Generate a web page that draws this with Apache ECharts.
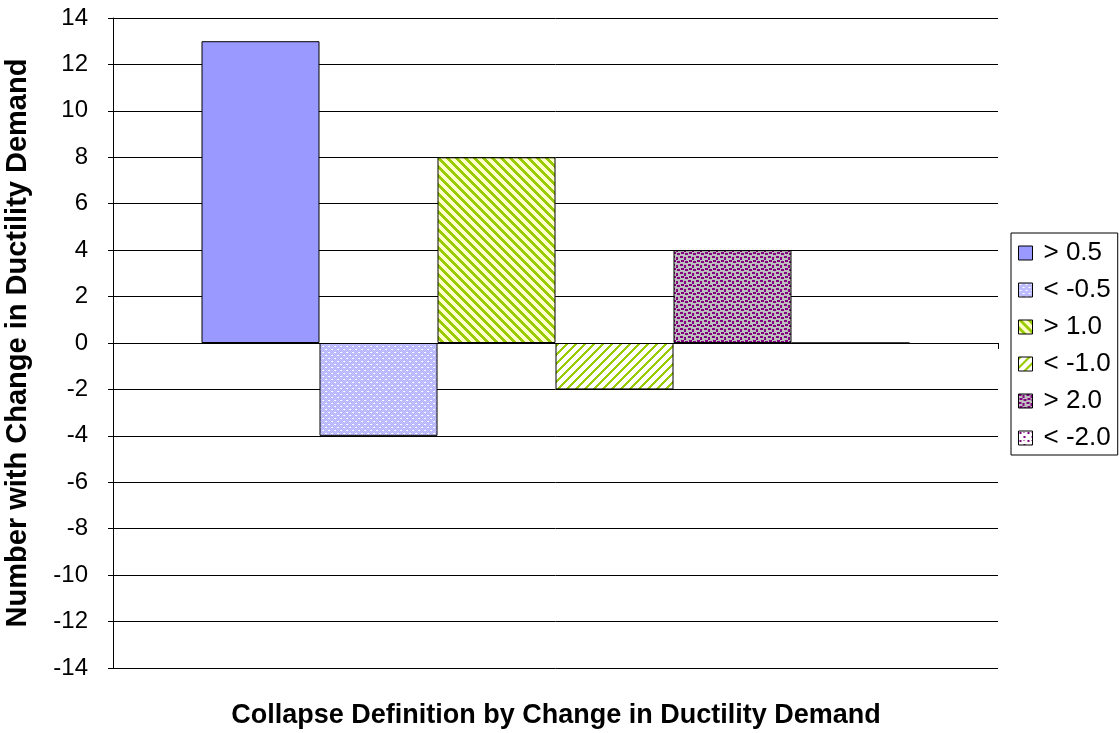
<!DOCTYPE html>
<html>
<head>
<meta charset="utf-8">
<script src="https://cdn.jsdelivr.net/npm/echarts@6/dist/echarts.min.js"></script>
<style>
  html, body { margin: 0; padding: 0; background: #fff; }
  #chart { width: 1120px; height: 733px; }
</style>
</head>
<body>
<div id="chart"></div>
<script>
// Chart data
const categories = ['Collapse'];
const seriesNames = ['> 0.5', '< -0.5', '> 1.0', '< -1.0', '> 2.0', '< -2.0'];
const seriesValues = [[13], [-4], [8], [-2], [4], [0]];
const yTicks = { min: -14, max: 14, interval: 2 };
const xTitle = 'Collapse Definition by Change in Ductility Demand';
const yTitle = 'Number with Change in Ductility Demand';

// Small tiled fill patterns drawn on canvases
function tile(size, painter) {
  const c = document.createElement('canvas');
  c.width = size; c.height = size;
  const ctx = c.getContext('2d');
  painter(ctx, size);
  return { image: c, repeat: 'repeat' };
}
function px(ctx, x, y, col) { ctx.fillStyle = col; ctx.fillRect(x, y, 1, 1); }

const fills = [
  '#9999FF',
  // lavender with small white specks
  tile(6, (ctx, s) => {
    ctx.fillStyle = '#B0B0FF'; ctx.fillRect(0, 0, s, s);
    for (let y = 0; y < s; y++) for (let x = 0; x < s; x++) {
      if ((x + y) % 2 === 0) px(ctx, x, y, '#C8C8FF');
    }
    px(ctx, 1, 1, '#fff'); px(ctx, 2, 1, '#fff');
    px(ctx, 4, 4, '#fff'); px(ctx, 5, 4, '#fff');
  }),
  // wide downward diagonal, green on pale yellow
  tile(9, (ctx, s) => {
    ctx.fillStyle = '#FFFFCC'; ctx.fillRect(0, 0, s, s);
    for (let y = 0; y < s; y++) for (let x = 0; x < s; x++) {
      if ((((x - y) % s) + s) % s < 4) px(ctx, x, y, '#99CC00');
    }
  }),
  // upward diagonal, green on white
  tile(9, (ctx, s) => {
    ctx.fillStyle = '#FFFFFF'; ctx.fillRect(0, 0, s, s);
    for (let y = 0; y < s; y++) for (let x = 0; x < s; x++) {
      if ((x + y) % s < 3) px(ctx, x, y, '#99CC00');
    }
  }),
  // purple confetti on grey
  tile(8, (ctx, s) => {
    ctx.fillStyle = '#BEBEBE'; ctx.fillRect(0, 0, s, s);
    ctx.fillStyle = '#800080';
    ctx.fillRect(0, 0, 3, 2); ctx.fillRect(4, 1, 2, 3);
    ctx.fillRect(1, 4, 3, 2); ctx.fillRect(5, 5, 3, 2);
  }),
  // purple confetti on white
  tile(8, (ctx, s) => {
    ctx.fillStyle = '#FFFFFF'; ctx.fillRect(0, 0, s, s);
    ctx.fillStyle = '#800080';
    ctx.fillRect(1, 1, 2, 2); ctx.fillRect(5, 5, 2, 2);
    ctx.fillRect(5, 1, 1, 1);
  })
];

const font = '"Liberation Sans", Arial, sans-serif';
const chart = echarts.init(document.getElementById('chart'), null, { renderer: 'canvas' });

chart.setOption({
  animation: false,
  backgroundColor: '#fff',
  grid: { left: 113, right: 122, top: 18, bottom: 65, containLabel: false, outerBoundsMode: 'none' },
  graphic: [
    {
      type: 'text',
      x: 556, y: 716,
      style: { text: xTitle, font: 'bold 27px ' + font, fill: '#000', align: 'center', verticalAlign: 'middle' }
    },
    {
      type: 'text',
      x: 18, y: 343,
      rotation: Math.PI / 2,
      style: { text: yTitle, font: 'bold 29px ' + font, fill: '#000', align: 'center', verticalAlign: 'middle' }
    }
  ],
  legend: {
    orient: 'vertical',
    left: 1011,
    top: 233,
    padding: [7, 7, 4, 7],
    borderColor: '#000',
    borderWidth: 1,
    itemWidth: 14,
    itemHeight: 14,
    itemGap: 11,
    icon: 'rect',
    textStyle: { fontFamily: font, fontSize: 26, lineHeight: 26, color: '#000', padding: [0, 0, 0, 6] },
    itemStyle: { borderColor: '#000', borderWidth: 1 },
    data: seriesNames
  },
  xAxis: {
    type: 'category',
    data: categories,
    axisLine: { onZero: true, lineStyle: { color: '#000', width: 1 } },
    axisTick: { show: true, length: 6, lineStyle: { color: '#000' } },
    axisLabel: { show: false },
    splitLine: { show: false }
  },
  yAxis: {
    type: 'value',
    min: yTicks.min,
    max: yTicks.max,
    interval: yTicks.interval,
    axisLine: { show: true, lineStyle: { color: '#000', width: 1 } },
    axisTick: { show: true, length: 5, lineStyle: { color: '#000' } },
    axisLabel: { fontFamily: font, fontSize: 24, color: '#000', margin: 25 },
    splitLine: { show: true, lineStyle: { color: '#000', width: 1 } }
  },
  series: seriesNames.map((name, i) => ({
    name,
    type: 'bar',
    data: seriesValues[i],
    barGap: '0%',
    barCategoryGap: '20%',
    itemStyle: { color: fills[i], borderColor: '#000', borderWidth: 1 }
  }))
});
</script>
</body>
</html>
